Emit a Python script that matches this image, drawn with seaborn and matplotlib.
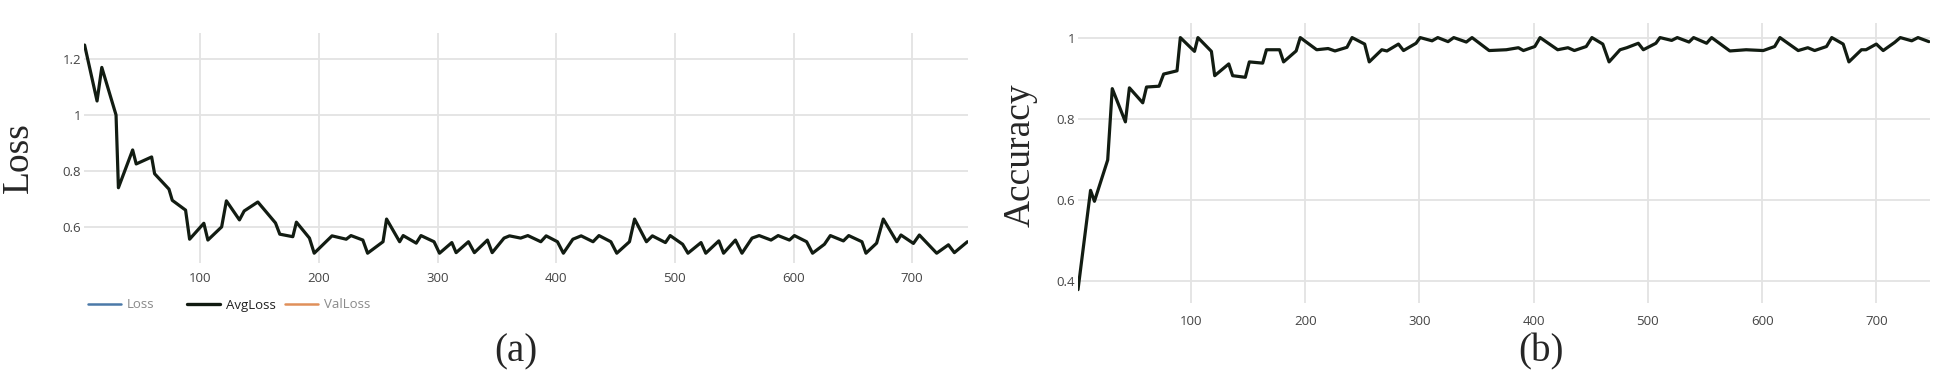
import matplotlib
matplotlib.use("Agg")
import matplotlib.pyplot as plt
from matplotlib.lines import Line2D
import seaborn as sns
import pandas as pd

# ---- data ----
loss_steps = [2.5, 13, 17, 29, 31, 43, 46, 59, 61.5, 73.6, 76.4, 87.6, 91, 103, 106.4,
              118, 122, 133, 137, 148.5, 163.4, 167, 178, 181, 192, 196, 211, 223, 227,
              237, 241, 254, 257, 268, 271, 282, 286, 297, 301.6, 312, 315.6, 326, 331,
              342, 346, 356, 360.6, 370, 376, 387, 391.5, 401, 406, 414, 421, 431, 436,
              446, 451, 461.7, 466, 476, 481, 492, 496, 506.5, 511, 522, 526, 537, 541,
              551, 556.5, 565, 571, 581, 587, 596.5, 600.7, 611, 616, 626, 631, 642,
              646.5, 657.6, 661, 670, 675.6, 687, 690.5, 701, 706, 720.6, 730.5, 735.5,
              746.5]
avg_loss = [1.25, 1.05, 1.17, 1.0, 0.74, 0.875, 0.825, 0.85, 0.79, 0.735, 0.695, 0.66,
            0.556, 0.613, 0.553, 0.60, 0.693, 0.625, 0.657, 0.689, 0.614, 0.574, 0.565,
            0.617, 0.56, 0.506, 0.568, 0.556, 0.569, 0.553, 0.506, 0.547, 0.628, 0.547,
            0.569, 0.542, 0.569, 0.547, 0.506, 0.544, 0.508, 0.547, 0.508, 0.553, 0.508,
            0.56, 0.568, 0.56, 0.569, 0.547, 0.568, 0.547, 0.506, 0.556, 0.568, 0.547,
            0.569, 0.547, 0.506, 0.547, 0.628, 0.547, 0.568, 0.544, 0.569, 0.538, 0.506,
            0.544, 0.506, 0.55, 0.506, 0.553, 0.506, 0.56, 0.569, 0.553, 0.569, 0.553,
            0.569, 0.547, 0.506, 0.538, 0.569, 0.55, 0.569, 0.547, 0.506, 0.542, 0.628,
            0.547, 0.571, 0.541, 0.571, 0.506, 0.536, 0.508, 0.547]

acc_steps = [1, 12, 15.4, 27, 31, 42.5, 46, 57.7, 61, 72, 76, 87.7, 90.6, 103, 106,
             117.8, 120.7, 133, 136.4, 147.5, 151, 162.7, 166, 177.5, 181, 192, 195.6,
             210, 220, 226, 236.5, 241, 252, 256, 267, 271.5, 281.6, 286, 297, 300.6,
             311, 316, 325, 330, 341, 346, 361, 376, 386.6, 391, 401, 405.6, 421, 430,
             435.6, 446, 451, 460.5, 466, 475.6, 481.5, 491.6, 496, 507, 510.6, 520.8,
             525.7, 536, 540, 551.4, 555.8, 571.8, 586, 601, 611, 615.6, 631.6, 640,
             646, 656.4, 661, 671, 676, 687, 691, 700, 706, 716, 721, 731, 736.5, 746]
accuracy = [0.378, 0.623, 0.596, 0.698, 0.874, 0.792, 0.876, 0.839, 0.878, 0.88, 0.91,
            0.918, 1.0, 0.966, 1.0, 0.966, 0.906, 0.935, 0.906, 0.902, 0.94, 0.937, 0.97,
            0.97, 0.94, 0.967, 1.0, 0.97, 0.973, 0.967, 0.976, 1.0, 0.984, 0.94, 0.97,
            0.967, 0.984, 0.968, 0.986, 1.0, 0.992, 1.0, 0.99, 1.0, 0.989, 1.0, 0.968,
            0.97, 0.975, 0.968, 0.978, 1.0, 0.97, 0.975, 0.968, 0.978, 1.0, 0.984, 0.94,
            0.97, 0.975, 0.986, 0.97, 0.986, 1.0, 0.993, 1.0, 0.989, 1.0, 0.986, 1.0,
            0.967, 0.97, 0.968, 0.978, 1.0, 0.968, 0.975, 0.968, 0.978, 1.0, 0.984, 0.94,
            0.97, 0.97, 0.984, 0.968, 0.988, 1.0, 0.992, 1.0, 0.99]

x_ticks = [100, 200, 300, 400, 500, 600, 700]
loss_yticks = [0.6, 0.8, 1.0, 1.2]
loss_yticklabels = ["0.6", "0.8", "1", "1.2"]
acc_yticks = [0.4, 0.6, 0.8, 1.0]
acc_yticklabels = ["0.4", "0.6", "0.8", "1"]
legend_labels = ["Loss", "AvgLoss", "ValLoss"]
legend_colors = ["#4b79a8", "#111a11", "#e0905a"]

df_loss = pd.DataFrame({"step": loss_steps, "AvgLoss": avg_loss})
df_acc = pd.DataFrame({"step": acc_steps, "Accuracy": accuracy})

# ---- styling ----
sns.set_theme(style="white")
plt.rcParams["font.family"] = ["Open Sans", "DejaVu Sans"]

W, H = 1936, 377
fig = plt.figure(figsize=(W / 100, H / 100), dpi=100)

def box(l, t, r, b):
    return [l / W, 1 - b / H, (r - l) / W, (b - t) / H]

ax1 = fig.add_axes(box(84, 33, 968, 263))
ax2 = fig.add_axes(box(1078, 23, 1930, 303))

line_color = "#121c12"
grid_color = "#e3e3e3"
tick_color = "#444444"

sns.lineplot(data=df_loss, x="step", y="AvgLoss", ax=ax1, color=line_color,
             linewidth=2.3, sort=False)
sns.lineplot(data=df_acc, x="step", y="Accuracy", ax=ax2, color=line_color,
             linewidth=2.3, sort=False)

ax1.set_xlim(2, 747)
ax1.set_ylim(0.471, 1.293)
ax2.set_xlim(1, 747)
ax2.set_ylim(0.345, 1.036)

for ax, yt, ytl, xpad in [(ax1, loss_yticks, loss_yticklabels, 6.5),
                          (ax2, acc_yticks, acc_yticklabels, 8.5)]:
    ax.set_xticks(x_ticks)
    ax.set_xticklabels([str(v) for v in x_ticks])
    ax.set_yticks(yt)
    ax.set_yticklabels(ytl)
    ax.grid(True, color=grid_color, linewidth=1.3)
    ax.set_axisbelow(True)
    for s in ax.spines.values():
        s.set_visible(False)
    ax.tick_params(axis="both", length=0, labelsize=9.5, labelcolor=tick_color)
    ax.tick_params(axis="x", pad=xpad)
    ax.tick_params(axis="y", pad=2)
    ax.set_xlabel("")
    ax.set_ylabel("")

# axis titles in serif
serif = ["Liberation Serif", "DejaVu Serif"]
fig.text(19 / W, 1 - 158 / H, "Loss", rotation=90, ha="center", va="center",
         fontsize=27, family=serif)
fig.text(1020 / W, 1 - 155 / H, "Accuracy", rotation=90, ha="center", va="center",
         fontsize=27, family=serif)
fig.text(516 / W, 1 - 352 / H, "(a)", ha="center", va="center", fontsize=28, family=serif)
fig.text(1541 / W, 1 - 352 / H, "(b)", ha="center", va="center", fontsize=28, family=serif)

# legend (plotly-style, three items)
legend_x = [88, 187, 285]
for lx, lab, col in zip(legend_x, legend_labels, legend_colors):
    h = Line2D([], [], color=col, linewidth=2.4 if lab == "AvgLoss" else 1.8)
    lg = fig.legend([h], [lab], loc="center left",
                    bbox_to_anchor=(lx / W, 1 - 305 / H), frameon=False,
                    handlelength=2.5, handletextpad=0.45, borderpad=0,
                    borderaxespad=0, prop={"family": ["Open Sans"], "size": 9.5})
    for t in lg.get_texts():
        t.set_color("#222222" if lab == "AvgLoss" else "#8a8a8a")

fig.savefig("out.png", dpi=100)
